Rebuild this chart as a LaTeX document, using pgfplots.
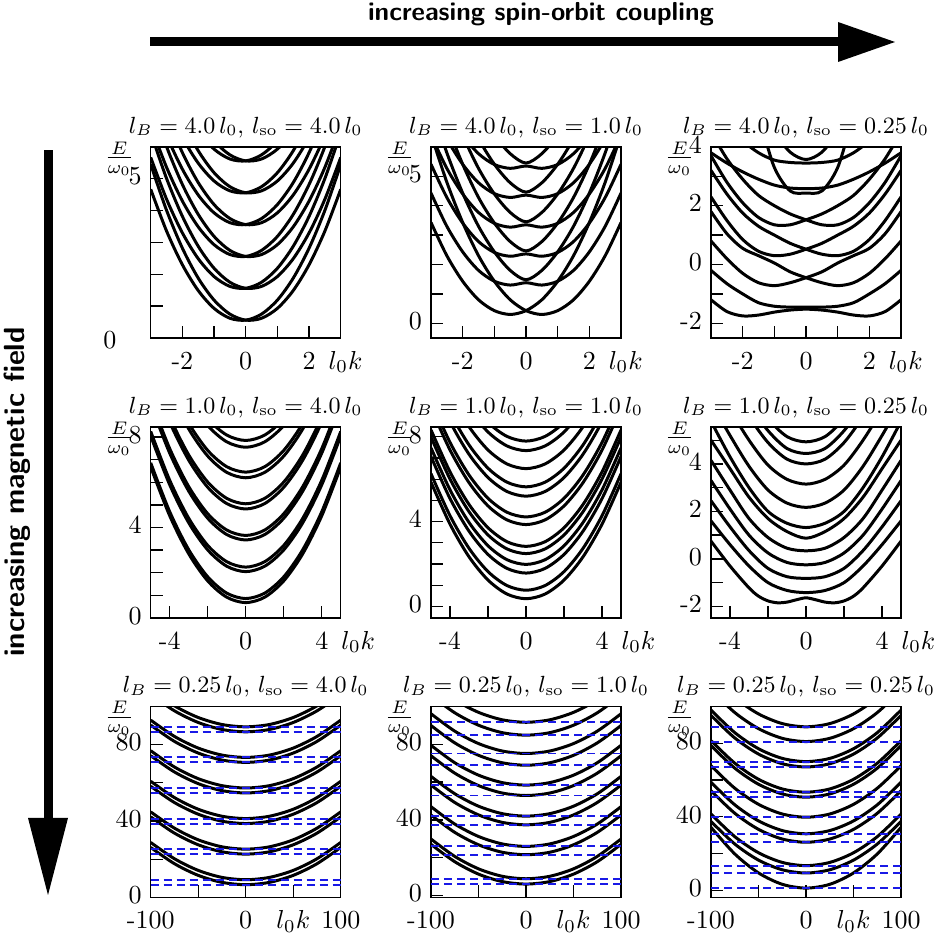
\documentclass[border=0pt]{standalone}
\usepackage{pgfplots}
\pgfplotsset{compat=1.18}
\usepackage{pgfplotstable}

% ---------- panel 1: lB=4, lso=4
\pgfplotstableread{
k c1 c2 c3 c4 c5 c6 c7 c8 c9 c10 c11 c12
-3 5.45 4.67 6.45 5.67 7.45 6.67 8.45 7.67 9.45 8.67 10.45 9.67
-2.5 4.01 3.36 5.01 4.36 6.01 5.36 7.01 6.36 8.01 7.36 9.01 8.36
-2 2.82 2.30 3.82 3.30 4.82 4.30 5.82 5.30 6.82 6.30 7.82 7.30
-1.5 1.88 1.49 2.88 2.49 3.88 3.49 4.88 4.49 5.88 5.49 6.88 6.49
-1 1.19 0.93 2.19 1.93 3.19 2.93 4.19 3.93 5.19 4.93 6.19 5.93
-0.5 0.75 0.62 1.75 1.62 2.75 2.62 3.75 3.62 4.75 4.62 5.75 5.62
0 0.56 0.56 1.56 1.56 2.56 2.56 3.56 3.56 4.56 4.56 5.56 5.56
0.5 0.62 0.75 1.62 1.75 2.62 2.75 3.62 3.75 4.62 4.75 5.62 5.75
1 0.93 1.19 1.93 2.19 2.93 3.19 3.93 4.19 4.93 5.19 5.93 6.19
1.5 1.49 1.88 2.49 2.88 3.49 3.88 4.49 4.88 5.49 5.88 6.49 6.88
2 2.30 2.82 3.30 3.82 4.30 4.82 5.30 5.82 6.30 6.82 7.30 7.82
2.5 3.36 4.01 4.36 5.01 5.36 6.01 6.36 7.01 7.36 8.01 8.36 9.01
3 4.67 5.45 5.67 6.45 6.67 7.45 7.67 8.45 8.67 9.45 9.67 10.45
}\tA
% ---------- panel 2: lB=4, lso=1
\pgfplotstableread{
k c1 c2 c3 c4 c5 c6 c7 c8 c9 c10 c11 c12
-3 3.43 6.43 4.43 7.43 5.41 8.41 6.40 9.40 7.41 10.41 8.40 11.40
-2.5 2.30 4.80 3.30 5.80 4.28 6.78 5.27 7.77 6.28 8.78 7.27 9.77
-2 1.43 3.43 2.43 4.43 3.41 5.41 4.40 6.40 5.41 7.41 6.40 8.40
-1.5 0.80 2.30 1.80 3.30 2.78 4.28 3.77 5.27 4.78 6.28 5.77 7.27
-1 0.43 1.43 1.43 2.43 2.41 3.41 3.40 4.40 4.41 5.41 5.40 6.40
-0.5 0.30 0.80 1.30 1.80 2.28 2.78 3.27 3.77 4.28 4.78 5.27 5.77
0 0.43 0.43 1.38 1.48 2.36 2.46 3.35 3.45 4.36 4.46 5.35 5.45
0.5 0.80 0.30 1.30 1.80 2.28 2.78 3.27 3.77 4.28 4.78 5.27 5.77
1 1.43 0.43 1.43 2.43 2.41 3.41 3.40 4.40 4.41 5.41 5.40 6.40
1.5 2.30 0.80 1.80 3.30 2.78 4.28 3.77 5.27 4.78 6.28 5.77 7.27
2 3.43 1.43 2.43 4.43 3.41 5.41 4.40 6.40 5.41 7.41 6.40 8.40
2.5 4.80 2.30 3.30 5.80 4.28 6.78 5.27 7.77 6.28 8.78 7.27 9.77
3 6.43 3.43 4.43 7.43 5.41 8.41 6.40 9.40 7.41 10.41 8.40 11.40
}\tB
% ---------- panel 3: lB=4, lso=0.25
\pgfplotstableread{
k c1 c2 c3 c4 c5 c6 c7 c8 c9 c10 c11 c12
-3 -1.2 -0.2 1.8 0.8 3.2 2.3 4.5 3.7 10 3.8 5.5 9.3
-2.5 -1.6 -0.65 1.05 0.2 2.4 1.5 3.6 2.8 8 3.45 4.7 7.8
-2 -1.75 -1.0 0.55 -0.3 1.75 0.85 2.9 2.1 6 3.15 4.2 6.5
-1.5 -1.72 -1.3 0.3 -0.62 1.3 0.45 2.35 1.6 5.0 2.9 3.8 5.4
-1 -1.62 -1.42 0.05 -0.72 1.0 0.3 2.0 1.35 3.3 2.7 3.55 4.5
-0.5 -1.55 -1.45 -0.25 -0.62 0.72 0.35 1.72 1.35 2.5 2.6 3.47 3.82
0 -1.52 -1.45 -0.45 -0.45 0.52 0.52 1.52 1.52 2.43 2.58 3.45 3.57
0.5 -1.55 -1.45 -0.62 -0.25 0.35 0.72 1.35 1.72 2.5 2.6 3.47 3.82
1 -1.62 -1.42 -0.72 0.05 0.3 1.0 1.35 2.0 3.3 2.7 3.55 4.5
1.5 -1.72 -1.3 -0.62 0.3 0.45 1.3 1.6 2.35 5.0 2.9 3.8 5.4
2 -1.75 -1.0 -0.3 0.55 0.85 1.75 2.1 2.9 6 3.15 4.2 6.5
2.5 -1.6 -0.65 0.2 1.05 1.5 2.4 2.8 3.6 8 3.45 4.7 7.8
3 -1.2 -0.2 0.8 1.8 2.3 3.2 3.7 4.5 10 3.8 5.5 9.3
}\tC
% ---------- panel 4: lB=1, lso=4
\pgfplotstableread{
k c1 c2 c3 c4 c5 c6 c7 c8 c9 c10 c11 c12
-5 6.68 6.86 8.05 8.25 9.45 9.65 10.82 11.05 12.2 12.45 13.55 13.85
-4 4.52 4.70 5.89 6.09 7.29 7.49 8.66 8.89 10.04 10.29 11.39 11.69
-3 2.84 3.02 4.21 4.41 5.61 5.81 6.98 7.21 8.36 8.61 9.71 10.01
-2 1.64 1.82 3.01 3.21 4.41 4.61 5.78 6.01 7.16 7.41 8.51 8.81
-1 0.92 1.10 2.29 2.49 3.69 3.89 5.06 5.29 6.44 6.69 7.79 8.09
0 0.68 0.86 2.05 2.25 3.45 3.65 4.82 5.05 6.2 6.45 7.55 7.85
1 0.92 1.10 2.29 2.49 3.69 3.89 5.06 5.29 6.44 6.69 7.79 8.09
2 1.64 1.82 3.01 3.21 4.41 4.61 5.78 6.01 7.16 7.41 8.51 8.81
3 2.84 3.02 4.21 4.41 5.61 5.81 6.98 7.21 8.36 8.61 9.71 10.01
4 4.52 4.70 5.89 6.09 7.29 7.49 8.66 8.89 10.04 10.29 11.39 11.69
5 6.68 6.86 8.05 8.25 9.45 9.65 10.82 11.05 12.2 12.45 13.55 13.85
}\tD
% ---------- panel 5: lB=1, lso=1
\pgfplotstableread{
k c1 c2 c3 c4 c5 c6 c7 c8 c9 c10 c11 c12 c13
-5 5.86 6.26 7.07 7.48 7.99 8.33 9.36 9.72 10.7 11.14 12.0 12.85 13.3
-4 3.88 4.28 5.09 5.50 6.01 6.35 7.38 7.74 8.72 9.16 10.02 10.87 11.32
-3 2.34 2.74 3.55 3.96 4.47 4.81 5.84 6.20 7.18 7.62 8.48 9.33 9.78
-2 1.24 1.64 2.45 2.86 3.37 3.71 4.74 5.10 6.08 6.52 7.38 8.23 8.68
-1 0.58 0.98 1.79 2.20 2.71 3.05 4.08 4.44 5.42 5.86 6.72 7.57 8.02
0 0.36 0.76 1.57 1.98 2.49 2.83 3.86 4.22 5.2 5.64 6.5 7.35 7.8
1 0.58 0.98 1.79 2.20 2.71 3.05 4.08 4.44 5.42 5.86 6.72 7.57 8.02
2 1.24 1.64 2.45 2.86 3.37 3.71 4.74 5.10 6.08 6.52 7.38 8.23 8.68
3 2.34 2.74 3.55 3.96 4.47 4.81 5.84 6.20 7.18 7.62 8.48 9.33 9.78
4 3.88 4.28 5.09 5.50 6.01 6.35 7.38 7.74 8.72 9.16 10.02 10.87 11.32
5 5.86 6.26 7.07 7.48 7.99 8.33 9.36 9.72 10.7 11.14 12.0 12.85 13.3
}\tE
% ---------- panel 6: lB=1, lso=0.25 (lowest band on a finer grid)
\pgfplotstableread{
k c1
-5 0.75
-4 -0.3
-3 -1.22
-2.5 -1.57
-2 -1.77
-1.5 -1.85
-1 -1.82
-0.5 -1.72
0 -1.64
0.5 -1.72
1 -1.82
1.5 -1.85
2 -1.77
2.5 -1.57
3 -1.22
4 -0.3
5 0.75
}\tFa
\pgfplotstableread{
k c2 c3 c4 c5 c6 c7 c8 c9 c10 c11 c12
-5 1.6 2.45 3.3 4.15 5.0 5.8 6.6 7.8 9.0 9.6 10.0
-4 0.6 1.35 2.1 2.9 3.8 4.3 5.2 6.3 7.4 8.0 8.5
-3 -0.3 0.35 1.0 1.7 2.6 3.0 3.9 5.0 6.0 6.5 7.0
-2 -1.0 -0.4 0.25 0.9 1.7 2.0 2.9 3.95 4.9 5.4 5.9
-1 -1.33 -0.75 -0.15 0.45 1.15 1.5 2.35 3.35 4.2 4.65 5.15
0 -1.42 -0.82 -0.25 0.34 0.87 1.32 2.17 3.15 4.0 4.44 4.93
1 -1.33 -0.75 -0.15 0.45 1.15 1.5 2.35 3.35 4.2 4.65 5.15
2 -1.0 -0.4 0.25 0.9 1.7 2.0 2.9 3.95 4.9 5.4 5.9
3 -0.3 0.35 1.0 1.7 2.6 3.0 3.9 5.0 6.0 6.5 7.0
4 0.6 1.35 2.1 2.9 3.8 4.3 5.2 6.3 7.4 8.0 8.5
5 1.6 2.45 3.3 4.15 5.0 5.8 6.6 7.8 9.0 9.6 10.0
}\tF
% ---------- panel 7: lB=0.25, lso=4
\pgfplotstableread{
k c1 c2 c3 c4 c5 c6 c7 c8 c9 c10 c11 c12
-100 26.2 28.8 42.2 44.8 58.2 60.8 74.2 76.8 90.2 92.8 106.2 108.8
-75 17.67 20.27 33.67 36.27 49.67 52.27 65.67 68.27 81.67 84.27 97.67 100.27
-50 11.58 14.18 27.58 30.18 43.58 46.18 59.58 62.18 75.58 78.18 91.58 94.18
-25 7.92 10.52 23.92 26.52 39.92 42.52 55.92 58.52 71.92 74.52 87.92 90.52
0 6.7 9.3 22.7 25.3 38.7 41.3 54.7 57.3 70.7 73.3 86.7 89.3
25 7.92 10.52 23.92 26.52 39.92 42.52 55.92 58.52 71.92 74.52 87.92 90.52
50 11.58 14.18 27.58 30.18 43.58 46.18 59.58 62.18 75.58 78.18 91.58 94.18
75 17.67 20.27 33.67 36.27 49.67 52.27 65.67 68.27 81.67 84.27 97.67 100.27
100 26.2 28.8 42.2 44.8 58.2 60.8 74.2 76.8 90.2 92.8 106.2 108.8
}\tG
\pgfplotstableread{
k d1 d2 d3 d4 d5 d6 d7 d8 d9 d10 d11 d12
-100 6.7 9.3 22.7 25.3 38.7 41.3 54.7 57.3 70.7 73.3 86.7 89.3
100 6.7 9.3 22.7 25.3 38.7 41.3 54.7 57.3 70.7 73.3 86.7 89.3
}\dG
% ---------- panel 8: lB=0.25, lso=1
\pgfplotstableread{
k c1 c2 c3 c4 c5 c6 c7 c8 c9 c10 c11 c12
-100 27.1 29.9 42.6 47.0 58.4 63.0 73.9 79.4 89.9 96.1 105.8 112.6
-75 17.91 20.71 33.41 37.81 49.21 53.81 64.71 70.21 80.71 86.91 96.61 103.41
-50 11.35 14.15 26.85 31.25 42.65 47.25 58.15 63.65 74.15 80.35 90.05 96.85
-25 7.41 10.21 22.91 27.31 38.71 43.31 54.21 59.71 70.21 76.41 86.11 92.91
0 6.1 8.9 21.6 26.0 37.4 42.0 52.9 58.4 68.9 75.1 84.8 91.6
25 7.41 10.21 22.91 27.31 38.71 43.31 54.21 59.71 70.21 76.41 86.11 92.91
50 11.35 14.15 26.85 31.25 42.65 47.25 58.15 63.65 74.15 80.35 90.05 96.85
75 17.91 20.71 33.41 37.81 49.21 53.81 64.71 70.21 80.71 86.91 96.61 103.41
100 27.1 29.9 42.6 47.0 58.4 63.0 73.9 79.4 89.9 96.1 105.8 112.6
}\tH
\pgfplotstableread{
k d1 d2 d3 d4 d5 d6 d7 d8 d9 d10 d11 d12
-100 6.1 8.9 21.6 26.0 37.4 42.0 52.9 58.4 68.9 75.1 84.8 91.6
100 6.1 8.9 21.6 26.0 37.4 42.0 52.9 58.4 68.9 75.1 84.8 91.6
}\dH
% ---------- panel 9: lB=0.25, lso=0.25
\pgfplotstableread{
k c1 c2 c3 c4 c5 c6 c7 c8 c9 c10 c11 c12
-100 34.3 37.5 41.5 54.2 58.8 67.8 78.7 81.4 95.1 98.0 108.9 116.9
-75 19.86 25.25 29.25 41.95 46.55 55.55 66.45 69.15 82.85 85.75 96.65 104.65
-50 9.55 16.5 20.5 33.2 37.8 46.8 57.7 60.4 74.1 77.0 87.9 95.9
-25 3.36 11.25 15.25 27.95 32.55 41.55 52.45 55.15 68.85 71.75 82.65 90.65
0 1.3 9.5 13.5 26.2 30.8 39.8 50.7 53.4 67.1 70.0 80.9 88.9
25 3.36 11.25 15.25 27.95 32.55 41.55 52.45 55.15 68.85 71.75 82.65 90.65
50 9.55 16.5 20.5 33.2 37.8 46.8 57.7 60.4 74.1 77.0 87.9 95.9
75 19.86 25.25 29.25 41.95 46.55 55.55 66.45 69.15 82.85 85.75 96.65 104.65
100 34.3 37.5 41.5 54.2 58.8 67.8 78.7 81.4 95.1 98.0 108.9 116.9
}\tI
\pgfplotstableread{
k d1 d2 d3 d4 d5 d6 d7 d8 d9 d10 d11 d12
-100 1.3 9.5 13.5 26.2 30.8 39.8 50.7 53.4 67.1 70.0 80.9 88.9
100 1.3 9.5 13.5 26.2 30.8 39.8 50.7 53.4 67.1 70.0 80.9 88.9
}\dI

\definecolor{dashblue}{RGB}{25,25,230}
\pgfplotsset{
  panel/.style={
    scale only axis, width=73.1pt, height=73.5pt, anchor=south west,
    axis line style={line width=0.5pt},
    tick align=inside, tick pos=left,
    major tick length=4.7pt,
    every tick/.append style={line width=0.5pt, black},
    typeset ticklabels with strut,
    title style={font=\fontsize{9}{11}\selectfont, yshift=-6pt},
    extra description/.code={\node at (0,1) [xshift=-12.1pt, yshift=-4.6pt] {$\frac{E}{\omega_0}$};},
  },
  curve/.style={black, line width=1.15pt, smooth, mark=none},
  rowA/.style={xmin=-3, xmax=3, xtick={-2,-1,0,1,2},
    xticklabels={-2,,0,,{2\rlap{\hspace{5pt}$l_0k$}}}},
  rowB/.style={xmin=-5, xmax=5, xtick={-4,-2,0,2,4},
    xticklabels={-4,,0,,{4\rlap{\hspace{5pt}$l_0k$}}}},
  rowC/.style={xmin=-100, xmax=100, xtick={-100,-50,0,50,100},
    xticklabels={-100,,0,$l_0k$,100}, ymax=100, ytick={0,20,40,60,80},
    yticklabels={0,,40,,80}},
  dl/.style={color=dashblue, line width=0.75pt, dash pattern=on 3.2pt off 1.8pt, mark=none},
}

\begin{document}
\begin{tikzpicture}[x=0.3846pt, y=0.3846pt]
\useasboundingbox (0,0) rectangle (942,936);

% big arrows and texts
\fill (150,889.5) rectangle (842,898.5);
\fill (838,914) -- (895,894) -- (838,874) -- cycle;
\node[font=\sffamily\bfseries] at (541,922) {increasing spin-orbit coupling};
\fill (43.5,786) rectangle (52.5,114);
\fill (28,118) -- (48,41) -- (68,118) -- cycle;
\node[font=\fontsize{11.2}{13}\sffamily\bfseries, rotate=90] at (17,444) {increasing magnetic field};

% ---------------- row 1
\begin{axis}[panel, rowA, at={(57.96pt,229.99pt)}, ymin=0, ymax=6, ytick={0,...,5}, yticklabels={,,,,,5},
  title={$l_B = 4.0\,l_0$, $l_{\mathrm{so}} = 4.0\,l_0$},
  after end axis/.code={\node at (rel axis cs:0,0) [xshift=-15.7pt, yshift=-0.8pt] {0};}]
\pgfplotsinvokeforeach{c1,c2,c3,c4,c5,c6,c7,c8,c9,c10,c11,c12}{\addplot[curve] table[x=k,y=#1]{\tA};}
\end{axis}
\begin{axis}[panel, rowA, at={(165.76pt,229.99pt)}, ymin=-0.5, ymax=6, ytick={0,...,5}, yticklabels={0,,,,,5},
  title={$l_B = 4.0\,l_0$, $l_{\mathrm{so}} = 1.0\,l_0$}]
\pgfplotsinvokeforeach{c1,c2,c3,c4,c5,c6,c7,c8,c9,c10,c11,c12}{\addplot[curve] table[x=k,y=#1]{\tB};}
\end{axis}
\begin{axis}[panel, rowA, at={(273.45pt,229.99pt)}, ymin=-2.5, ymax=4, ytick={-2,...,4}, yticklabels={-2,,0,,2,,4},
  title={$l_B = 4.0\,l_0$, $l_{\mathrm{so}} = 0.25\,l_0$}]
\pgfplotsinvokeforeach{c1,c2,c3,c4,c5,c6,c7,c8,c9,c10,c11,c12}{\addplot[curve] table[x=k,y=#1]{\tC};}
\end{axis}

% ---------------- row 2
\begin{axis}[panel, rowB, at={(57.96pt,122.30pt)}, ymin=0, ymax=8.45, ytick={0,...,8}, yticklabels={0,,,,4,,,,8},
  title={$l_B = 1.0\,l_0$, $l_{\mathrm{so}} = 4.0\,l_0$}]
\pgfplotsinvokeforeach{c1,c2,c3,c4,c5,c6,c7,c8,c9,c10,c11,c12}{\addplot[curve] table[x=k,y=#1]{\tD};}
\end{axis}
\begin{axis}[panel, rowB, at={(165.76pt,122.30pt)}, ymin=-0.55, ymax=8.47, ytick={0,...,8}, yticklabels={0,,,,4,,,,8},
  title={$l_B = 1.0\,l_0$, $l_{\mathrm{so}} = 1.0\,l_0$}]
\pgfplotsinvokeforeach{c1,c2,c3,c4,c5,c6,c7,c8,c9,c10,c11,c12,c13}{\addplot[curve] table[x=k,y=#1]{\tE};}
\end{axis}
\begin{axis}[panel, rowB, at={(273.45pt,122.30pt)}, ymin=-2.49, ymax=5.56, ytick={-2,...,5}, yticklabels={-2,,0,,2,,4,},
  title={$l_B = 1.0\,l_0$, $l_{\mathrm{so}} = 0.25\,l_0$}]
\addplot[curve] table[x=k,y=c1]{\tFa};
\pgfplotsinvokeforeach{c2,c3,c4,c5,c6,c7,c8,c9,c10,c11,c12}{\addplot[curve] table[x=k,y=#1]{\tF};}
\end{axis}

% ---------------- row 3
\begin{axis}[panel, rowC, at={(57.96pt,14.81pt)}, ymin=0,
  title={$l_B = 0.25\,l_0$, $l_{\mathrm{so}} = 4.0\,l_0$}]
\pgfplotsinvokeforeach{c1,c2,c3,c4,c5,c6,c7,c8,c9,c10,c11,c12}{\addplot[curve] table[x=k,y=#1]{\tG};}
\pgfplotsinvokeforeach{d1,d2,d3,d4,d5,d6,d7,d8,d9,d10,d11,d12}{\addplot[dl] table[x=k,y=#1]{\dG};}
\end{axis}
\begin{axis}[panel, rowC, at={(165.76pt,14.81pt)}, ymin=-1,
  title={$l_B = 0.25\,l_0$, $l_{\mathrm{so}} = 1.0\,l_0$}]
\pgfplotsinvokeforeach{c1,c2,c3,c4,c5,c6,c7,c8,c9,c10,c11,c12}{\addplot[curve] table[x=k,y=#1]{\tH};}
\pgfplotsinvokeforeach{d1,d2,d3,d4,d5,d6,d7,d8,d9,d10,d11,d12}{\addplot[dl] table[x=k,y=#1]{\dH};}
\end{axis}
\begin{axis}[panel, rowC, at={(273.45pt,14.81pt)}, ymin=-3.8,
  title={$l_B = 0.25\,l_0$, $l_{\mathrm{so}} = 0.25\,l_0$}]
\pgfplotsinvokeforeach{c1,c2,c3,c4,c5,c6,c7,c8,c9,c10,c11,c12}{\addplot[curve] table[x=k,y=#1]{\tI};}
\pgfplotsinvokeforeach{d1,d2,d3,d4,d5,d6,d7,d8,d9,d10,d11,d12}{\addplot[dl] table[x=k,y=#1]{\dI};}
\end{axis}
\end{tikzpicture}
\end{document}
